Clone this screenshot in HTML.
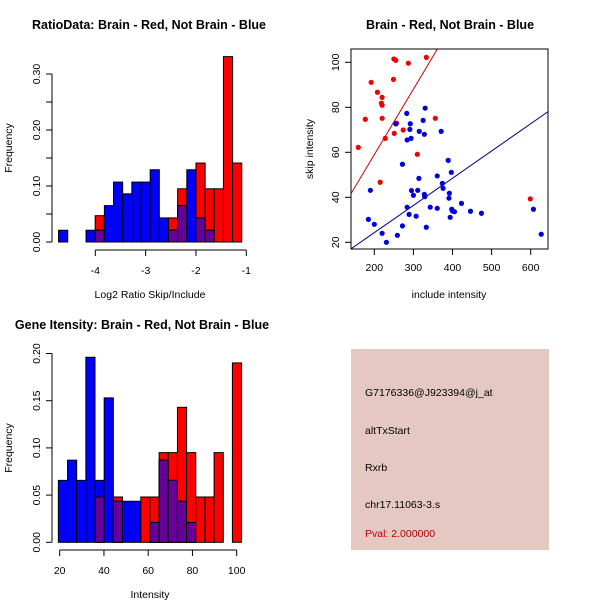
<!DOCTYPE html>
<html><head><meta charset="utf-8"><style>
body{margin:0;background:#fff}
svg{display:block;font-family:"Liberation Sans",sans-serif}
.t{font-weight:bold;font-size:12.5px}
.l{font-size:10.5px}
</style></head><body>
<svg id="c" width="600" height="600" viewBox="0 0 600 600">
<rect width="600" height="600" fill="#fff"/>
<text class="t" x="149" y="29" text-anchor="middle">RatioData: Brain - Red, Not Brain - Blue</text>
<text class="t" x="450" y="29" text-anchor="middle">Brain - Red, Not Brain - Blue</text>
<text class="t" x="142" y="329" text-anchor="middle">Gene Itensity: Brain - Red, Not Brain - Blue</text>
<g id="p1"></g>
<g id="p2"></g>
<g id="p3"></g>
<g>
<rect x="351" y="349" width="198" height="201" fill="#e6c8c2"/>
<text class="l" x="365" y="396">G7176336@J923394@j_at</text>
<text class="l" x="365" y="434">altTxStart</text>
<text class="l" x="365" y="471">Rxrb</text>
<text class="l" x="365" y="508">chr17.11063-3.s</text>
<text class="l" x="365" y="537" fill="#b00000">Pval: 2.000000</text>
</g>
</svg>
<script>
// ---- histogram 1 data ----
const h1Start = -4.73, h1Width = 0.182;
const h1Red  = [0,0,0,0,0.047,0,0,0,0,0,0,0,0.043,0.095,0,0.141,0.095,0.095,0.331,0.141];
const h1Blue = [0.021,0,0,0.021,0.021,0.065,0.107,0.086,0.107,0.107,0.129,0.043,0.021,0.065,0.129,0.043,0.021,0,0,0];
const h1XTicks = [-4,-3,-2,-1];
const h1YTicks = [0,0.05,0.10,0.15,0.20,0.25,0.30];
const h1YLabels = ["0.00","","0.10","","0.20","","0.30"];
// ---- scatter data ----
const redX = [159,177,192,208,220,218,220,220,215,228,250,255,249,287,333,257,251,274,310,356,599];
const redY = [62.2,74.7,91.1,86.7,84.4,81.8,80.9,75.1,46.7,66.2,101.5,100.9,92.4,99.6,102.2,72.9,68.4,69.9,59.1,75.1,39.3];
const blueX = [255,283,292,291,284,294,315,325,330,328,371,272,314,361,374,376,389,397,392,391,398,400,405,394,423,446,474,295,300,311,328,329,284,289,307,343,361,333,272,259,231,220,200,185,190,607,627];
const blueY = [72.6,77.3,72.7,70.2,65.5,66.2,69.3,74.2,79.6,68.0,69.3,54.7,48.4,49.5,46.2,44.0,56.4,51.1,41.8,39.6,34.7,33.9,33.6,31.1,37.3,33.8,32.9,43.0,40.9,43.1,41.3,40.3,35.6,32.4,31.6,35.6,35.1,26.7,27.3,23.1,20.0,24.0,28.0,30.2,43.1,34.7,23.6];
const redFit = [0.75, 0.291];
const blueFit = [0.1, 0.121];
const scXTicks = [200,300,400,500,600];
const scYTicks = [20,40,60,80,100];
// ---- histogram 2 data ----
const h2Start = 19.4, h2Width = 4.14;
const h2Red  = [0,0,0,0,0.048,0,0.048,0,0,0.048,0.048,0.095,0.095,0.143,0.095,0.048,0.048,0.095,0,0.19];
const h2Blue = [0.0656,0.087,0.0656,0.196,0.0656,0.153,0.0435,0.0435,0.0435,0,0.021,0.087,0.0656,0.0435,0.021,0,0,0,0,0];
const h2XTicks = [20,40,60,80,100];
const h2YTicks = [0,0.05,0.10,0.15,0.20];
const h2YLabels = ["0.00","0.05","0.10","0.15","0.20"];

const NS="http://www.w3.org/2000/svg";
function mk(tag,attrs,parent,txt){const e=document.createElementNS(NS,tag);for(const k in attrs)e.setAttribute(k,attrs[k]);if(txt!==undefined)e.textContent=txt;parent.appendChild(e);return e;}

function hist(g,o){
  const sx=v=>o.x0+(v-o.v0)*o.kx, sy=v=>o.base-v*o.ky;
  const n=o.red.length;
  for(let i=0;i<n;i++){
    const a=o.start+i*o.w,b=a+o.w,x1=sx(a),x2=sx(b);
    const r=o.red[i],bl=o.blue[i],m=Math.min(r,bl);
    if(r>0){const e=mk('rect',{x:x1,y:sy(r),width:x2-x1,height:sy(0)-sy(r),fill:'#ff0000',stroke:'#000','stroke-width':1},g);
      
      }
    if(bl>0){const e=mk('rect',{x:x1,y:sy(bl),width:x2-x1,height:sy(0)-sy(bl),fill:'#0000ff',stroke:'#000','stroke-width':1},g);
      
      }
    if(m>0){const e=mk('rect',{x:x1,y:sy(m),width:x2-x1,height:sy(0)-sy(m),fill:'#660099',stroke:'#000','stroke-width':1},g);
      
      }
  }
  // y axis
  const yt=o.yTicks;
  mk('line',{x1:o.yAxX,x2:o.yAxX,y1:sy(yt[0]),y2:sy(yt[yt.length-1]),stroke:'#000'},g);
  yt.forEach((v,i)=>{const y=sy(v);mk('line',{x1:o.yAxX-6,x2:o.yAxX,y1:y,y2:y,stroke:'#000'},g);
    if(o.yLabels[i]){const t=mk('text',{x:o.yAxX-12,y:y,transform:`rotate(-90 ${o.yAxX-12} ${y})`,'text-anchor':'middle',class:'l'},g,o.yLabels[i]);
      
      }});
  // x axis
  const xt=o.xTicks;
  mk('line',{x1:sx(xt[0]),x2:sx(xt[xt.length-1]),y1:o.xAxY,y2:o.xAxY,stroke:'#000'},g);
  xt.forEach(v=>{const x=sx(v);mk('line',{x1:x,x2:x,y1:o.xAxY,y2:o.xAxY+6,stroke:'#000'},g);
    const t=mk('text',{x:x,y:o.xAxY+24,'text-anchor':'middle',class:'l'},g,String(v).replace('-','-'));
    
    });
  const xl=mk('text',{x:o.xlX,y:o.xAxY+48,'text-anchor':'middle',class:'l'},g,o.xlab);
  
  
  const yl=mk('text',{x:12,y:o.ylY,transform:`rotate(-90 12 ${o.ylY})`,'text-anchor':'middle',class:'l'},g,'Frequency');
  
  
}

hist(document.getElementById('p1'),{x0:95.3,v0:-4,kx:50.33,base:242,ky:560,start:h1Start,w:h1Width,red:h1Red,blue:h1Blue,
  yTicks:h1YTicks,yLabels:h1YLabels,yAxX:52,xTicks:h1XTicks,xAxY:250,xlab:'Log2 Ratio Skip/Include',xlX:150,ylY:148});
hist(document.getElementById('p3'),{x0:59.7,v0:20,kx:2.2125,base:542.3,ky:944,start:h2Start,w:h2Width,red:h2Red,blue:h2Blue,
  yTicks:h2YTicks,yLabels:h2YLabels,yAxX:52,xTicks:h2XTicks,xAxY:550,xlab:'Intensity',xlX:150,ylY:448});

// scatter
(function(){
  const g=document.getElementById('p2');
  const L=351,R=548,T=49,B=249;
  const sx=v=>374.3+(v-200)*0.391, sy=v=>242.3-(v-20)*2.25;
  const xMin=(L-374.3)/0.391+200, xMax=(R-374.3)/0.391+200;
  const defs=mk('clipPath',{id:'clp'},g);mk('rect',{x:L,y:T,width:R-L,height:B-T},defs);
  [[redFit,'#cc0000'],[blueFit,'#00008b']].forEach(([f,c],i)=>{
    const l=mk('line',{x1:sx(xMin),y1:sy(f[0]+f[1]*xMin),x2:sx(xMax),y2:sy(f[0]+f[1]*xMax),stroke:c,'stroke-width':1,'clip-path':'url(#clp)'},g);
    
    
  });
  redX.forEach((v,i)=>{const c=mk('circle',{cx:sx(v),cy:sy(redY[i]),r:2.6,fill:'#ee0000'},g);
    
    });
  blueX.forEach((v,i)=>{const c=mk('circle',{cx:sx(v),cy:sy(blueY[i]),r:2.6,fill:'#0000dd'},g);
    
    });
  mk('rect',{x:L,y:T,width:R-L,height:B-T,fill:'none',stroke:'#000'},g);
  scXTicks.forEach(v=>{const x=sx(v);mk('line',{x1:x,x2:x,y1:B,y2:B+6,stroke:'#000'},g);
    const t=mk('text',{x:x,y:B+22,'text-anchor':'middle',class:'l'},g,String(v));
    
    });
  scYTicks.forEach(v=>{const y=sy(v);mk('line',{x1:L-6,x2:L,y1:y,y2:y,stroke:'#000'},g);
    const t=mk('text',{x:L-12,y:y,transform:`rotate(-90 ${L-12} ${y})`,'text-anchor':'middle',class:'l'},g,String(v));
    
    });
  const xl=mk('text',{x:449,y:298,'text-anchor':'middle',class:'l'},g,'include intensity');
  
  
  const yl=mk('text',{x:313,y:149,transform:'rotate(-90 313 149)','text-anchor':'middle',class:'l'},g,'skip intensity');
  
  
})();
</script>
</body></html>
